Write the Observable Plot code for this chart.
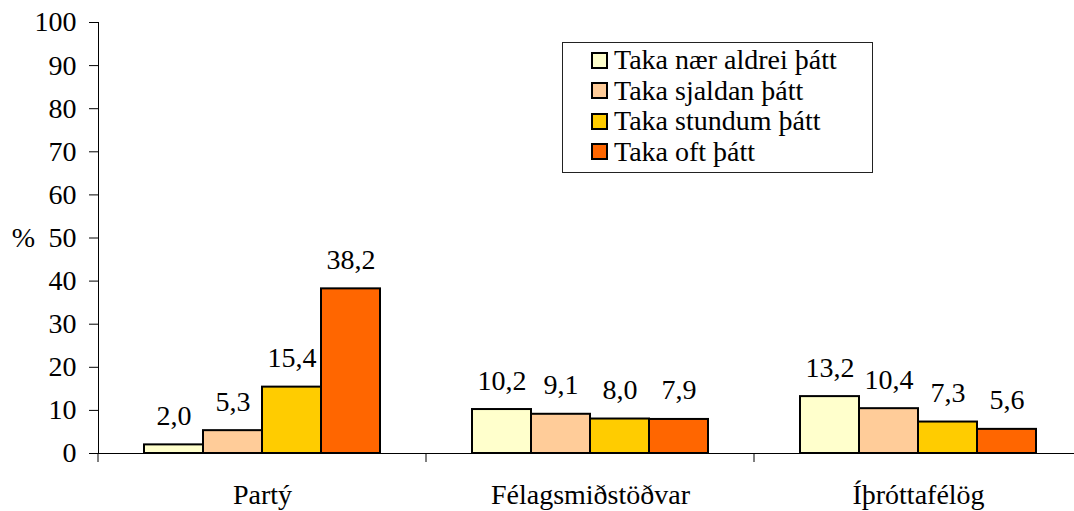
<!DOCTYPE html>
<html>
<head>
<meta charset="utf-8">
<script src="https://cdn.jsdelivr.net/npm/d3@7"></script>
<script src="https://cdn.jsdelivr.net/npm/@observablehq/plot@0.6"></script>
<style>
  html, body { margin: 0; padding: 0; background: #fff; }
</style>
</head>
<body>
<div id="wrap" style="position:relative;width:1074px;height:511px;font-family:Times;"></div>
<script>
const categories = ["Partý", "Félagsmiðstöðvar", "Íþróttafélög"];
const series = ["Taka nær aldrei þátt", "Taka sjaldan þátt", "Taka stundum þátt", "Taka oft þátt"];
const colors = ["#FFFFCC", "#FFCC99", "#FFCC00", "#FF6600"];
const neverValues = [2.0, 10.2, 13.2];
const rarelyValues = [5.3, 9.1, 10.4];
const sometimesValues = [15.4, 8.0, 7.3];
const oftenValues = [38.2, 7.9, 5.6];
const yTicks = [0, 10, 20, 30, 40, 50, 60, 70, 80, 90, 100];
const yLabel = "%";

const seriesValues = [neverValues, rarelyValues, sometimesValues, oftenValues];
const data = categories.flatMap((c, ci) => series.map((s, si) => ({category: c, series: s, value: seriesValues[si][ci]})));

const fmt = v => v.toFixed(1).replace(".", ",");
const FONT = "Times";

const chart = Plot.plot({
  width: 1074,
  height: 511,
  marginLeft: 98,
  marginRight: -8,
  marginTop: 22,
  marginBottom: 58,
  style: "font-family: Times; font-size: 28px; color: #000; background: #fff;",
  fx: {domain: categories, padding: 0, label: null},
  x: {domain: series, paddingInner: 0, paddingOuter: 0.75, axis: null},
  y: {domain: [0, 100], axis: null},
  color: {domain: series, range: colors},
  marks: [
    Plot.barY(data, {fx: "category", x: "series", y: "value", fill: "series", stroke: "#000", strokeWidth: 2}),
    Plot.text(data, {fx: "category", x: "series", y: "value", text: d => fmt(d.value), lineAnchor: "bottom", dy: -20, fill: "#000", fontFamily: FONT, fontSize: 28}),
    Plot.axisY({ticks: yTicks, tickSize: 9, tickPadding: 13, label: null, tickFormat: d => String(d), fontFamily: FONT, fontSize: 28}),
    Plot.axisFx({anchor: "bottom", tickSize: 0, tickPadding: 31, label: null, fontFamily: FONT, fontSize: 28}),
    Plot.frame({anchor: "left", facetAnchor: "left", stroke: "#000"}),
    Plot.ruleY([0], {stroke: "#000"}),
    Plot.frame({render: (index, scales, values, dims) => {
      const y0 = scales.y(0);
      const g = d3.create("svg:g");
      g.append("line").attr("x1", dims.marginLeft).attr("x2", dims.marginLeft)
        .attr("y1", y0).attr("y2", y0 + 9).attr("stroke", "#000");
      return g.node();
    }}),
    Plot.text([yLabel], {fx: [categories[0]], y: [50], text: d => d, frameAnchor: "left", dx: -75, textAnchor: "middle", fill: "#000", fontFamily: FONT, fontSize: 28})
  ]
});

const wrap = document.getElementById("wrap");
wrap.appendChild(chart);
const legend = document.createElement("div");
legend.setAttribute("style", "position:absolute;left:562px;top:42px;width:311px;height:131px;box-sizing:border-box;border:1px solid #222;background:#fff;padding:2px 0 0 28px;font-family:Times;");
series.forEach((s, i) => {
  const item = document.createElement("div");
  item.setAttribute("style", "height:30.5px;display:flex;align-items:center;font-size:28px;color:#000;white-space:nowrap;font-family:Times;");
  const sw = document.createElement("span");
  sw.setAttribute("style", "width:13px;height:13px;border:2px solid #000;margin-right:6px;flex:none;background:" + colors[i] + ";");
  const t = document.createElement("span");
  t.setAttribute("style", "font-family:Times;");
  t.textContent = s;
  item.appendChild(sw);
  item.appendChild(t);
  legend.appendChild(item);
});
wrap.appendChild(legend);
</script>
</body>
</html>
